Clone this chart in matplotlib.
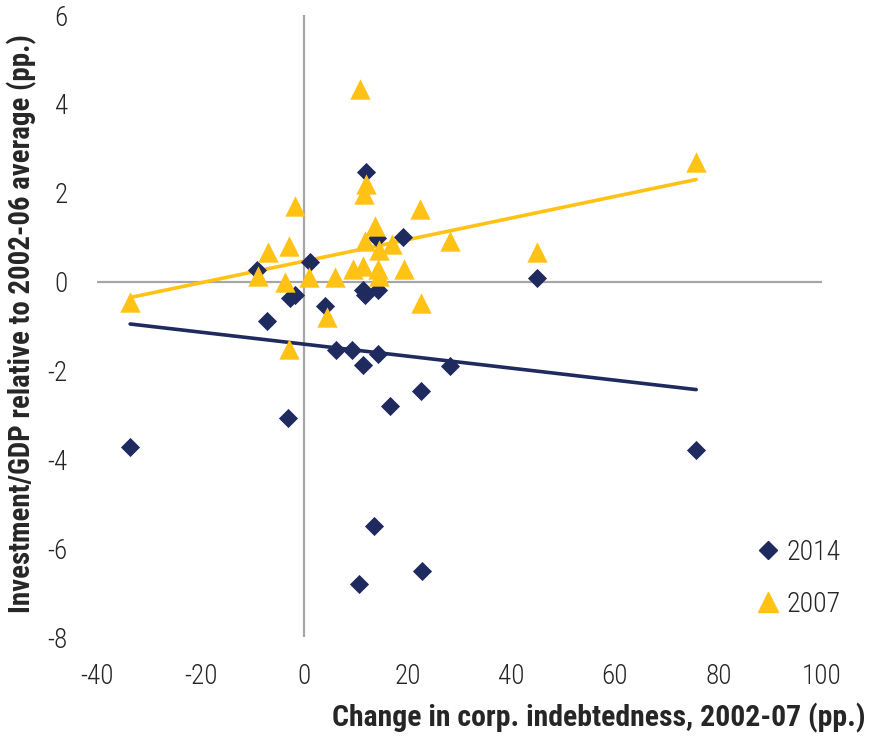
import matplotlib

matplotlib.use("Agg")
import matplotlib.pyplot as plt
import numpy as np
from matplotlib import font_manager
from matplotlib.lines import Line2D

# 2014: 投资/GDP 相对 2002-06 均值 vs 企业负债变化
X_2014 = [-33.6, -9.1, -7.1, -2.7, -1.7, -3.1, 1.2, 4.1, 6.2, 9.3, 11.4, 14.3, 16.6,
          22.6, 28.2, 13.5, 22.8, 10.6, 75.7, 45.0, 12.0, 19.1, 14.1, 11.4, 14.3, 11.8]
Y_2014 = [-3.73, 0.25, -0.88, -0.38, -0.31, -3.08, 0.45, -0.56, -1.55, -1.53, -1.87, -1.62, -2.79,
          -2.47, -1.91, -5.51, -6.52, -6.81, -3.78, 0.09, 2.47, 1.01, 0.97, -0.20, -0.20, -0.31]

X_2007 = [-33.6, -8.9, -6.9, -2.9, -3.7, 1.0, 4.4, -2.9, -1.7, 10.8, 12.0, 11.6, 22.4, 28.2,
          13.7, 11.8, 17.0, 14.5, 6.0, 9.5, 11.4, 14.3, 14.5, 19.3, 22.6, 45.0, 75.7]
Y_2007 = [-0.45, 0.13, 0.67, 0.79, 0.00, 0.11, -0.79, -1.51, 1.71, 4.34, 2.20, 1.98, 1.64, 0.92,
          1.24, 0.92, 0.85, 0.70, 0.11, 0.29, 0.34, 0.29, 0.13, 0.29, -0.49, 0.67, 2.70]

X_TICKS = [-40, -20, 0, 20, 40, 60, 80, 100]
Y_TICKS = [-8, -6, -4, -2, 0, 2, 4, 6]

NAVY = "#1F2A5E"
GOLD = "#FFC215"
GRID = "#A6A6A6"
TXT = "#262626"


def pick_font(cands):
    names = {f.name for f in font_manager.fontManager.ttflist}
    for c in cands:
        if c in names:
            return c
    return "DejaVu Sans"


FONT = pick_font(["Roboto Condensed", "Liberation Sans Narrow", "DejaVu Sans"])
plt.rcParams["font.family"] = [FONT, "DejaVu Sans"]
plt.rcParams["axes.unicode_minus"] = False

W, H = 869, 742
fig = plt.figure(figsize=(W / 100, H / 100), dpi=100)
ax = fig.add_axes([97 / W, 1 - 637 / H, (822 - 97) / W, (637 - 15) / H])
ax.set_xlim(-40, 100)
ax.set_ylim(-8, 6)
for sp in ax.spines.values():
    sp.set_visible(False)
ax.axhline(0, color=GRID, lw=1.6, zorder=1)
ax.axvline(0, color=GRID, lw=1.6, zorder=1)

ax.set_xticks(X_TICKS)
ax.set_yticks(Y_TICKS)
ax.tick_params(length=0, labelsize=19.5, labelcolor=TXT)
ax.tick_params(axis="y", pad=21)
ax.tick_params(axis="x", pad=19)
for lab in ax.get_xticklabels() + ax.get_yticklabels():
    lab.set_fontweight("light")

# 线性趋势线（Excel 风格，覆盖数据 x 范围）
for xs, ys, col in [(X_2014, Y_2014, NAVY), (X_2007, Y_2007, GOLD)]:
    xs = np.asarray(xs); ys = np.asarray(ys)
    k, b = np.polyfit(xs, ys, 1)
    xx = np.array([xs.min(), xs.max()])
    ax.plot(xx, k * xx + b, color=col, lw=2.6, solid_capstyle="round", zorder=2)

ax.scatter(X_2014, Y_2014, marker="D", s=95, color=NAVY, linewidths=0, zorder=3)
ax.scatter(X_2007, Y_2007, marker="^", s=215, color=GOLD, linewidths=0, zorder=4)

handles = [Line2D([0], [0], marker="D", ls="", ms=9, color=NAVY, label="2014"),
           Line2D([0], [0], marker="^", ls="", ms=14, color=GOLD, label="2007")]
leg = fig.legend(handles=handles, loc="center left", bbox_to_anchor=(742 / W, 1 - 578 / H),
                 frameon=False, fontsize=20, labelcolor=TXT, handlelength=0.9,
                 handletextpad=0.2, labelspacing=0.9, borderpad=0)
for t in leg.get_texts():
    t.set_fontweight("light")

fig.text(865 / W, 1 - 718 / H, "Change in corp. indebtedness, 2002-07 (pp.)",
         ha="right", va="center", fontsize=21.4, fontweight="bold", color=TXT)
fig.text(22 / W, 1 - 324 / H, "Investment/GDP relative to 2002-06 average (pp.)",
         ha="center", va="center", rotation=90, fontsize=20.8, fontweight="bold", color=TXT)

fig.savefig("out.png", dpi=100)
